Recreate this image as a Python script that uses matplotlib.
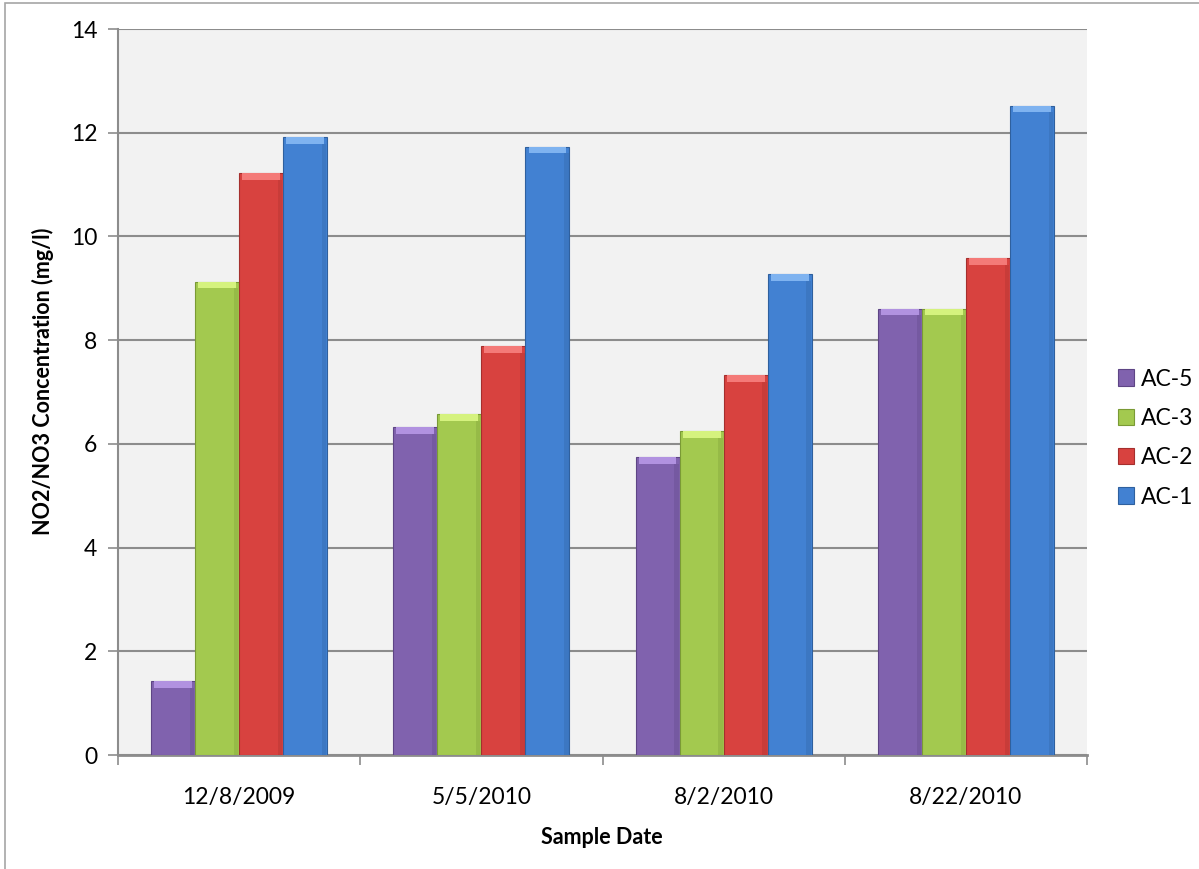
import matplotlib.pyplot as plt
import matplotlib.patches as mpatches
import numpy as np

plt.rcParams['font.family'] = ['Lato', 'DejaVu Sans']

dates = ['12/8/2009', '5/5/2010', '8/2/2010', '8/22/2010']
sites = ['AC-5', 'AC-3', 'AC-2', 'AC-1']
ac5 = [1.43, 6.32, 5.74, 8.61]
ac3 = [9.13, 6.57, 6.25, 8.61]
ac2 = [11.22, 7.88, 7.32, 9.58]
ac1 = [11.92, 11.73, 9.28, 12.52]
y_ticks = [0, 2, 4, 6, 8, 10, 12, 14]

# body / bevel-highlight / edge colours per series
body = ['#8062ae', '#a3c94f', '#d8423f', '#4281d2']
light = ['#b192e0', '#d5f27e', '#f47a78', '#7fb3f0']
edge = ['#5e4585', '#7a9a35', '#a52f2d', '#2f609e']

fig = plt.figure(figsize=(11.99, 8.69), dpi=100)
ax = fig.add_axes([118 / 1199, 1 - 755 / 869, 969 / 1199, 726 / 869])

# outer chart frame (only left/top edges fall inside the image)
fig.patches.append(mpatches.Rectangle((5 / 1199, -0.1), 1.2, 1 - 3 / 869 + 0.1,
                                      transform=fig.transFigure, fill=False,
                                      edgecolor='#a6a6a6', linewidth=1.2))

ax.set_facecolor('#f2f2f2')
x = np.arange(len(dates))
w = 1 / 5.5
series = [ac5, ac3, ac2, ac1]
for j, vals in enumerate(series):
    pos = x + (j - 1.5) * w
    vals = np.array(vals)
    ax.bar(pos, vals, width=w, color=body[j], edgecolor=edge[j], linewidth=0.8,
           label=sites[j], zorder=3)
    # bevel highlight along the top
    cap = 0.13
    ax.bar(pos, np.full_like(vals, cap), bottom=vals - cap, width=w * 0.86,
           color=light[j], linewidth=0, zorder=4)
    # soft shading along the right side
    ax.bar(pos + w * 0.43, vals - cap, width=w * 0.1, color=edge[j],
           alpha=0.3, linewidth=0, zorder=4)

ax.set_xlim(-0.5, len(dates) - 0.5)
ax.set_ylim(0, 14)
ax.set_yticks(y_ticks)
ax.yaxis.grid(True, color='#8c8c8c', linewidth=1.5, zorder=0)
ax.set_axisbelow(True)

# category boundaries as ticks, labels centred under each group
ax.set_xticks(np.arange(len(dates) + 1) - 0.5)
ax.set_xticklabels([])
ax.set_xticks(x, minor=True)
ax.set_xticklabels(dates, minor=True, fontsize=16.5)
ax.tick_params(axis='x', which='major', direction='out', length=7,
               color='#8c8c8c', width=1.2)
ax.tick_params(axis='x', which='minor', length=0, pad=23)
ax.tick_params(axis='y', direction='out', length=7, color='#8c8c8c', width=1.2,
               labelsize=16.5, pad=8)

ax.spines['right'].set_visible(False)
ax.spines['top'].set_visible(False)
ax.spines['left'].set_color('#8c8c8c')
ax.spines['left'].set_linewidth(1.5)
ax.spines['bottom'].set_color('#8c8c8c')
ax.spines['bottom'].set_linewidth(2)

fig.text(602 / 1199, 1 - 838 / 869, 'Sample Date', ha='center', va='center',
         fontsize=15.5, fontweight='bold')
fig.text(43 / 1199, 1 - 381 / 869, 'NO2/NO3 Concentration (mg/l)', ha='center',
         va='center', rotation=90, fontsize=15.5, fontweight='bold')

handles = [mpatches.Patch(facecolor=body[j], edgecolor=edge[j], linewidth=0.8)
           for j in range(len(sites))]
fig.legend(handles, sites, loc='center left',
           bbox_to_anchor=(1118 / 1199, 1 - 438 / 869), frameon=False,
           fontsize=16.5, handlelength=0.7, handleheight=0.7,
           handletextpad=0.3, labelspacing=0.8, borderpad=0, borderaxespad=0)

fig.savefig('out.png', dpi=100)
